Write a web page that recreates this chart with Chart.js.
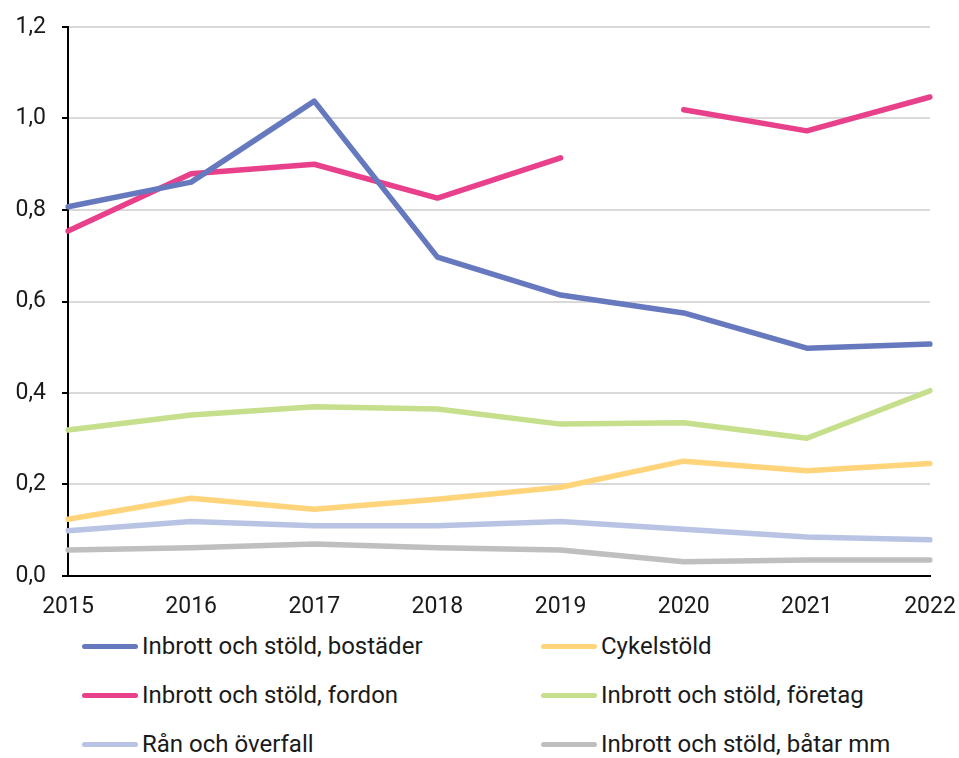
<!DOCTYPE html>
<html>
<head>
<meta charset="utf-8">
<script src="https://cdn.jsdelivr.net/npm/chart.js@4"></script>
<style>
  body { margin: 0; background: #fff; font-family: Roboto, sans-serif; }
  #wrap { position: relative; width: 959px; height: 758px; }
  #box { position: absolute; left: 0; top: 0; width: 959px; height: 630px; }
  #legend { position: absolute; left: 82px; top: 630px; width: 877px; }
  .item { position: absolute; display: flex; align-items: center; font-size: 24px; color: #1a1a1a; white-space: nowrap; }
  .swatch { width: 56px; height: 5px; border-radius: 3px; margin-right: 4px; }
</style>
</head>
<body>
<div id="wrap">
  <div id="box"><canvas id="lines"></canvas></div>
  <div id="legend"></div>
</div>
<script>
// data
const years = ['2015', '2016', '2017', '2018', '2019', '2020', '2021', '2022']
const bostader = [0.807, 0.861, 1.038, 0.697, 0.614, 0.575, 0.498, 0.507]
const cykel = [0.124, 0.170, 0.146, 0.168, 0.194, 0.251, 0.230, 0.246]
const fordon = [0.754, 0.879, 0.900, 0.826, 0.914, 1.019, 0.973, 1.047]
const foretag = [0.319, 0.352, 0.370, 0.365, 0.332, 0.335, 0.301, 0.405]
const ran = [0.099, 0.119, 0.110, 0.110, 0.119, 0.102, 0.085, 0.079]
const batar = [0.057, 0.062, 0.070, 0.062, 0.057, 0.031, 0.035, 0.035]
const yTicks = [0, 0.2, 0.4, 0.6, 0.8, 1.0, 1.2]

// gap in fordon series between 2019 and 2020
const fordonGap = 4

function line(label, color, data, extra) {
  return Object.assign({
    label: label,
    data: data,
    borderColor: color,
    backgroundColor: color,
    borderWidth: 5.5,
    pointRadius: 0,
    tension: 0,
    borderCapStyle: 'round',
    borderJoinStyle: 'round',
    fill: false,
  }, extra || {})
}

const lineConfig = {
  type: 'line',
  data: {
    labels: years,
    datasets: [
      line('Inbrott och stöld, bostäder', '#6679bf', bostader),
      line('Cykelstöld', '#ffd47a', cykel),
      line('Inbrott och stöld, fordon', '#e8408a', fordon, {
        segment: {
          borderColor: ctx => ctx.p0DataIndex === fordonGap ? 'rgba(0,0,0,0)' : undefined,
        },
      }),
      line('Inbrott och stöld, företag', '#c6df8c', foretag),
      line('Rån och överfall', '#b9c4e4', ran),
      line('Inbrott och stöld, båtar mm', '#bfbfbf', batar),
    ],
  },
  options: {
    responsive: true,
    maintainAspectRatio: false,
    animation: false,
    layout: { padding: { left: 0, right: 29, top: 27, bottom: 0 } },
    plugins: {
      legend: { display: false },
      tooltip: { enabled: false },
    },
    scales: {
      x: {
        offset: false,
        grid: { display: false },
        border: { display: true, color: '#000', width: 2 },
        ticks: { color: '#1a1a1a', font: { family: 'Roboto', size: 23 }, padding: 9, maxRotation: 0 },
        afterFit: s => {
          s.height = 630 - 576
          s.paddingLeft = 0
          s.paddingRight = 0
        },
      },
      y: {
        min: 0,
        max: 1.2,
        afterBuildTicks: s => { s.ticks = yTicks.map(v => ({ value: v })) },
        grid: { color: '#d9d9d9', lineWidth: 2, tickColor: '#000', tickLength: 6, drawTicks: true },
        border: { display: true, color: '#000', width: 2 },
        ticks: {
          color: '#1a1a1a',
          font: { family: 'Roboto', size: 23 },
          padding: 16,
          callback: v => v.toFixed(1).replace('.', ','),
        },
        afterFit: s => {
          s.width = 68
          s.paddingTop = 0
          s.paddingBottom = 0
        },
      },
    },
  },
}

const linesCtx = document.getElementById('lines')
window.myLine = new Chart(linesCtx, lineConfig)

// legend in two columns, three rows
const legendEl = document.getElementById('legend')
lineConfig.data.datasets.forEach((ds, i) => {
  const col = i % 2
  const row = Math.floor(i / 2)
  const item = document.createElement('div')
  item.className = 'item'
  item.style.left = (col * 459) + 'px'
  item.style.top = (row * 49 + 2) + 'px'
  const sw = document.createElement('div')
  sw.className = 'swatch'
  sw.style.background = ds.borderColor
  const txt = document.createElement('span')
  txt.textContent = ds.label
  item.appendChild(sw)
  item.appendChild(txt)
  legendEl.appendChild(item)
})
</script>
</body>
</html>
